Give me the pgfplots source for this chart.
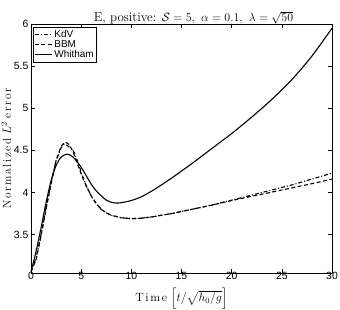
\documentclass[border=0pt]{standalone}
\usepackage{fontspec}
\usepackage{amsmath}
\newfontfamily\arial{Liberation Sans}
\newfontfamily\spacedfont[LetterSpace=14]{Latin Modern Roman}
\newcommand{\spaced}[1]{{\spacedfont #1}}
\usepackage{pgfplots}
\pgfplotsset{compat=1.18}
\begin{document}
\begin{tikzpicture}
\begin{axis}[
  name=ax,
  scale only axis,
  width=301bp, height=249bp,
  xmin=0, xmax=30, ymin=3.045, ymax=6,
  xtick={0,5,...,30},
  ytick={3.5,4,4.5,5,5.5,6},
  yticklabels={3.5,4,4.5,5,5.5,6},
  tick align=inside,
  axis line style={line width=0.5pt},
  tick style={black, line width=0.4pt},
  major tick length=4pt,
  ticklabel style={font=\arial\fontsize{10.5}{12}\selectfont},
  xticklabel style={yshift=2pt, inner ysep=1pt},
  yticklabel style={xshift=1pt},
  /pgf/number format/assume math mode=true,
  xlabel={\fontsize{12}{13}\selectfont \spaced{Time}\ $\left[t/\sqrt{h_0/g}\right]$},
  ylabel={\fontsize{11.5}{13}\selectfont \spaced{Normalized} $L^2$ \spaced{error}},
  xlabel style={at={(axis description cs:0.5,0)}, anchor=north, yshift=-14.5bp, inner ysep=0.5pt},
  ylabel style={yshift=-4pt},
  title={\fontsize{13}{14}\selectfont E, positive: $\mathcal{S}=5,\ \alpha=0.1,\ \lambda=\sqrt{50}$},
  title style={yshift=-10pt, xshift=12pt},
  legend style={at={(0.007,0.988)}, anchor=north west, font=\arial\fontsize{10}{11}\selectfont, draw=black, line width=0.5pt, inner sep=1pt, row sep=-2.5pt},
  legend cell align=left,
  legend image code/.code={\draw[#1] (0cm,0cm) -- (0.6cm,0cm);},
  clip=true,
]
\addplot[black, line width=1.1pt, dash pattern=on 4pt off 2pt on 1pt off 2pt] coordinates {
(0,3.06) (0.5,3.22) (1,3.5) (1.5,3.82) (2,4.12) (2.5,4.38) (3,4.53) (3.3,4.57) (3.6,4.56) (3.9,4.53) (4.1,4.52) (4.4,4.45) (4.8,4.32) (5,4.24) (5.5,4.08) (6,3.96) (6.5,3.87) (7,3.8) (7.5,3.76) (8,3.73) (9,3.7) (10,3.69) (11,3.695) (12,3.71) (14,3.75) (16,3.8) (18,3.85) (20,3.91) (22,3.97) (24,4.03) (26,4.09) (28,4.16) (30,4.23)
};
\addlegendentry{KdV}
\addplot[black, line width=1.1pt, dash pattern=on 4pt off 2.5pt] coordinates {
(0,3.06) (0.5,3.2) (1,3.48) (1.5,3.8) (2,4.1) (2.5,4.38) (3,4.55) (3.4,4.6) (3.8,4.57) (4.2,4.48) (4.6,4.35) (5,4.22) (5.5,4.08) (6,3.96) (6.5,3.87) (7,3.8) (7.5,3.76) (8,3.73) (9,3.7) (10,3.69) (11,3.695) (12,3.71) (14,3.75) (16,3.8) (18,3.85) (20,3.905) (22,3.955) (24,4.005) (26,4.055) (28,4.105) (30,4.16)
};
\addlegendentry{BBM}
\addplot[black, line width=1.1pt, smooth] coordinates {
(0,3.06) (0.5,3.3) (1,3.58) (1.5,3.88) (2,4.14) (2.5,4.32) (3,4.42) (3.6,4.455) (4.2,4.42) (5,4.3) (5.5,4.2) (6,4.1) (6.5,4.02) (7,3.96) (7.5,3.91) (8,3.885) (8.5,3.875) (9,3.88) (10,3.905) (11,3.95) (12,4.015) (13,4.09) (14,4.17) (15,4.255) (16,4.34) (17,4.43) (18,4.52) (19,4.61) (20,4.70) (22,4.895) (24,5.105) (26,5.34) (28,5.62) (30,5.95)
};
\addlegendentry{Whitham}
\node[anchor=south west, font=\arial\fontsize{9}{10}\selectfont, inner sep=0pt] at ([xshift=-3pt,yshift=1pt]rel axis cs:0,1) {x 10$^{\text{-3}}$};
\end{axis}
\pgfresetboundingbox
\path[use as bounding box] ([xshift=-31bp,yshift=-37bp]ax.south west) rectangle ([xshift=8bp,yshift=24bp]ax.north east);
\end{tikzpicture}
\end{document}
